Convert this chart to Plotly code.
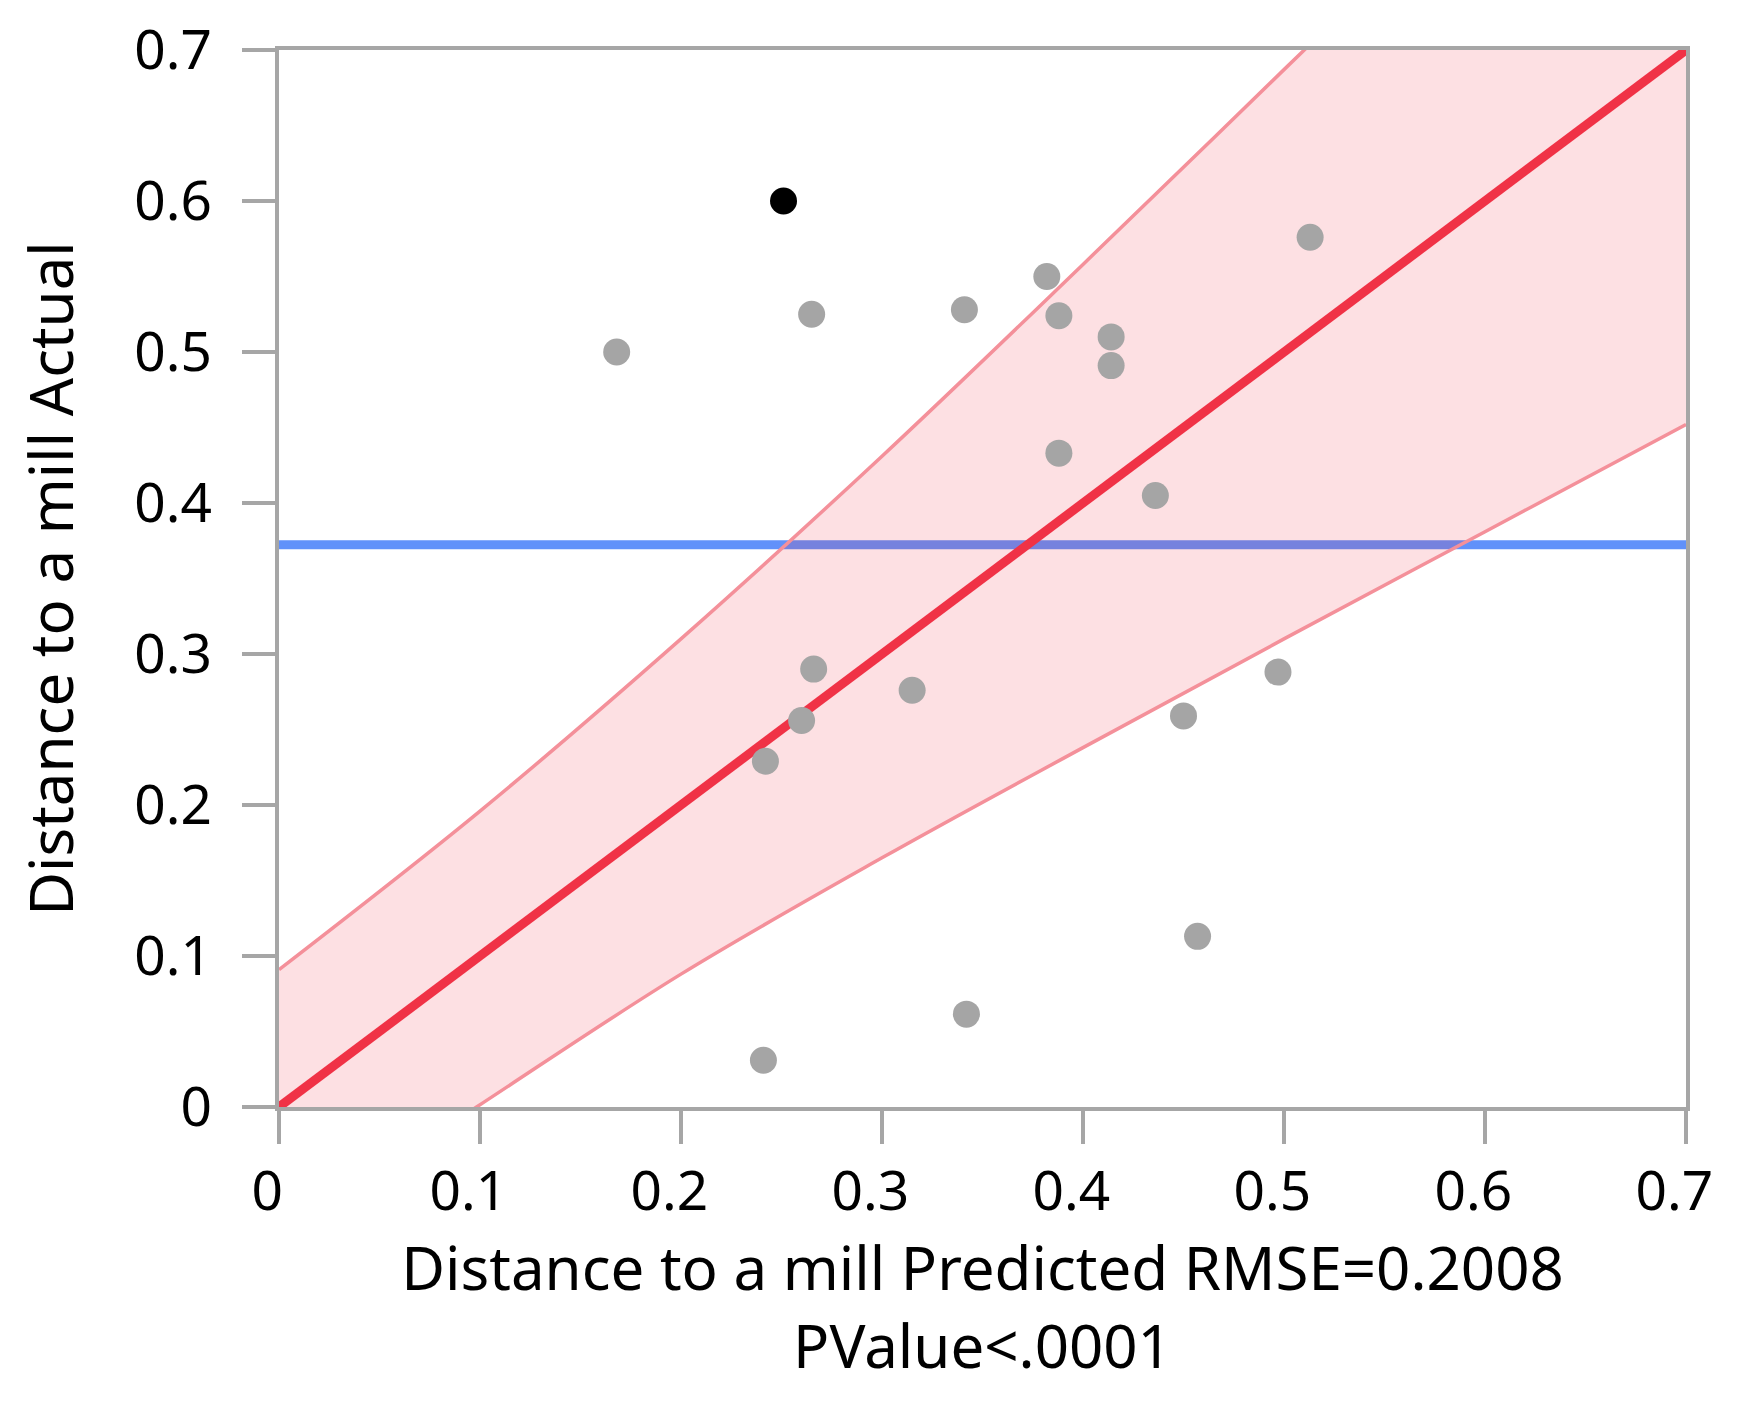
import numpy as np
import plotly.graph_objects as go

# --- values (actual vs predicted leverage plot)
predicted = [0.168, 0.251, 0.265, 0.341, 0.382, 0.388, 0.414, 0.414, 0.513, 0.388,
             0.436, 0.266, 0.315, 0.260, 0.242, 0.497, 0.450, 0.457, 0.342, 0.241]
actual = [0.500, 0.600, 0.525, 0.528, 0.550, 0.524, 0.510, 0.491, 0.576, 0.433,
          0.405, 0.290, 0.276, 0.256, 0.229, 0.288, 0.259, 0.113, 0.0615, 0.031]
highlighted = [1]  # the one black point

# confidence curves
upper_x = [0.0, 0.1, 0.2, 0.3, 0.4, 0.5, 0.6, 0.7]
upper_y = [0.091, 0.196, 0.310, 0.431, 0.558, 0.687, 0.816, 0.945]
lower_x = [0.0, 0.0983, 0.2, 0.3, 0.4, 0.5, 0.6, 0.7]
lower_y = [-0.086, 0.0, 0.088, 0.165, 0.238, 0.310, 0.381, 0.452]

fit_x = [0.0, 0.7]
fit_y = [0.0, 0.7]

tick_vals = [0, 0.1, 0.2, 0.3, 0.4, 0.5, 0.6, 0.7]
tick_text = ["0", "0.1", "0.2", "0.3", "0.4", "0.5", "0.6", "0.7"]

x_title = "Distance to a mill Predicted RMSE=0.2008<br>PValue<.0001"
y_title = "Distance to a mill Actual"

mean_actual = float(np.mean(actual))

axis_grey = "#a6a6a6"
font_name = "Noto Sans"
band_edge = "rgb(244,144,154)"

fig = go.Figure()

# mean line (drawn first so the band tints it)
fig.add_trace(go.Scatter(x=[0, 0.7], y=[mean_actual, mean_actual], mode="lines",
                         line=dict(color="rgb(97,145,250)", width=9),
                         hoverinfo="skip", showlegend=False))

# confidence band: lower curve, then upper curve filled down to it
fig.add_trace(go.Scatter(x=lower_x, y=lower_y, mode="lines",
                         line=dict(color=band_edge, width=3.5, shape="spline"),
                         hoverinfo="skip", showlegend=False))
fig.add_trace(go.Scatter(x=upper_x, y=upper_y, mode="lines", fill="tonexty",
                         fillcolor="rgba(240,50,70,0.15)",
                         line=dict(color=band_edge, width=3.5, shape="spline"),
                         hoverinfo="skip", showlegend=False))

# fit line
fig.add_trace(go.Scatter(x=fit_x, y=fit_y, mode="lines",
                         line=dict(color="rgb(240,50,70)", width=9),
                         hoverinfo="skip", showlegend=False))

# points
colors = ["black" if i in highlighted else "#a5a5a5" for i in range(len(actual))]
fig.add_trace(go.Scatter(x=predicted, y=actual, mode="markers",
                         marker=dict(size=27, color=colors, line=dict(width=0)),
                         showlegend=False))

axis_common = dict(range=[0, 0.7], tickvals=tick_vals,
                   showgrid=False, zeroline=False, showline=True, mirror=True,
                   linecolor=axis_grey, linewidth=4, ticks="outside", ticklen=33,
                   tickwidth=4, tickcolor=axis_grey,
                   tickfont=dict(family=font_name, size=55, color="black"))

# JMP sets the x labels a little left of their ticks
fig.update_xaxes(**axis_common, ticktext=[t + "\u00a0\u2009" for t in tick_text],
                 title=dict(text=x_title, standoff=18,
                            font=dict(family=font_name, size=60, color="black")))
fig.update_yaxes(**axis_common, ticktext=tick_text, ticklabelstandoff=19,
                 title=dict(text=y_title, standoff=42,
                            font=dict(family=font_name, size=60, color="black")))

fig.update_layout(width=1738, height=1408,
                  margin=dict(l=279, r=52, t=50, b=301, autoexpand=False),
                  plot_bgcolor="white", paper_bgcolor="white")

fig.write_html("out.html", config={"displayModeBar": False},
               post_script="document.body.style.margin='0';")
